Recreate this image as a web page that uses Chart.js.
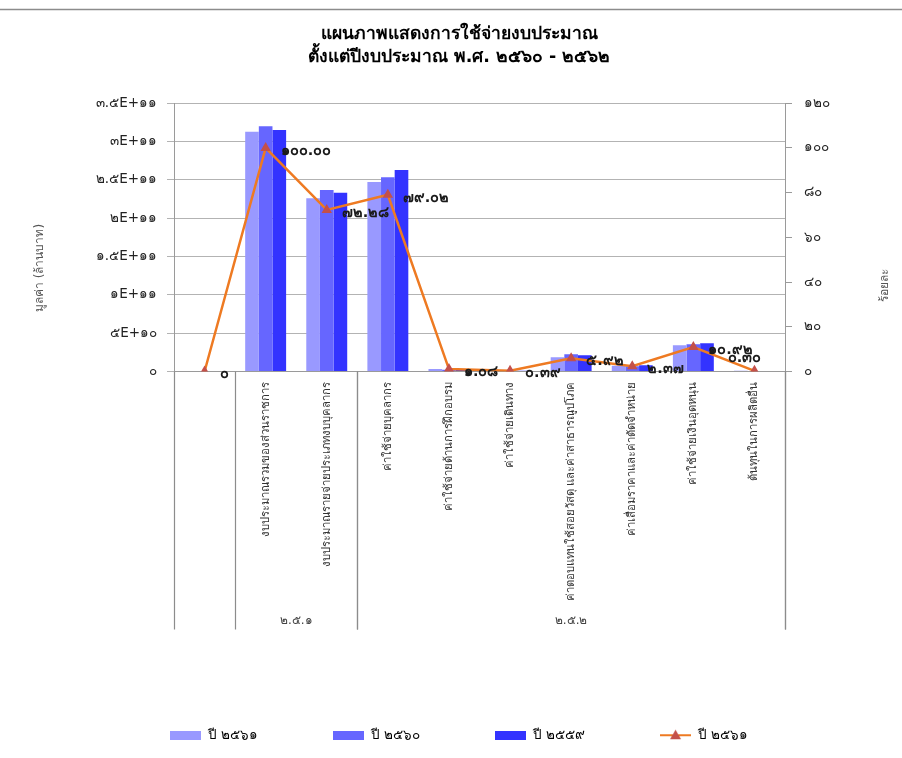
<!DOCTYPE html>
<html>
<head>
<meta charset="utf-8">
<script src="https://cdn.jsdelivr.net/npm/chart.js@4.4.1/dist/chart.umd.min.js"></script>
<style>
  html, body { margin: 0; padding: 0; background: #fff; }
  #wrap { width: 902px; height: 758px; position: relative; }
</style>
</head>
<body>
<div id="wrap"><canvas id="c" width="902" height="758"></canvas></div>
<script>
// Budget categories (first slot is intentionally blank)
const categories = [
  '',
  'งบประมาณรวมของส่วนราชการ',
  'งบประมาณรายจ่ายประเภทงบบุคลากร',
  'ค่าใช้จ่ายบุคลากร',
  'ค่าใช้จ่ายด้านการฝึกอบรม',
  'ค่าใช้จ่ายเดินทาง',
  'ค่าตอบแทนใช้สอยวัสดุ และค่าสาธารณูปโภค',
  'ค่าเสื่อมราคาและค่าตัดจำหน่าย',
  'ค่าใช้จ่ายเงินอุดหนุน',
  'ต้นทุนในการผลิตอื่น'
];

// Category groups shown on the second axis row
const groupNames = ['๒.๕.๑', '๒.๕.๒'];
const groupFirst = [1, 3];
const groupLast = [2, 9];

const seriesNames = ['ปี ๒๕๖๑', 'ปี ๒๕๖๐', 'ปี ๒๕๕๙', 'ปี ๒๕๖๑'];

// Spending (baht) per fiscal year
const spend2561 = [0, 3.127e11, 2.260e11, 2.471e11, 3.38e9, 1.22e9, 1.85e10, 7.4e9, 3.41e10, 9.4e8];
const spend2560 = [0, 3.200e11, 2.368e11, 2.533e11, 2.4e9, 1.0e9, 2.26e10, 7.0e9, 3.57e10, 0];
const spend2559 = [0, 3.149e11, 2.333e11, 2.628e11, 2.1e9, 0.9e9, 2.13e10, 8.0e9, 3.70e10, 0];

// Share of the total budget, percent (2561)
const percent2561 = [0, 100.00, 72.28, 79.02, 1.08, 0.39, 5.92, 2.37, 10.92, 0.30];

// Axis ranges
const valueMax = 3.5e11, valueStep = 5e10;
const percentMax = 120, percentStep = 20;

const chartTitle = ['แผนภาพแสดงการใช้จ่ายงบประมาณ', 'ตั้งแต่ปีงบประมาณ พ.ศ. ๒๕๖๐ - ๒๕๖๒'];
const valueAxisTitle = 'มูลค่า (ล้านบาท)';
const percentAxisTitle = 'ร้อยละ';

const FONT = "'DejaVu Sans', 'Noto Sans', sans-serif";
const GRID = '#b3b3b3';
const AXIS = '#9a9a9a';
const barColors = ['#9999ff', '#6666ff', '#3333ff'];
const lineColor = '#ee7a22';
const markerColor = '#c4504a';

const thaiDigits = s => String(s).replace(/[0-9]/g, d => '๐๑๒๓๔๕๖๗๘๙'[d]);

function sciLabel(v) {
  if (v === 0) return thaiDigits('0');
  const e = Math.floor(Math.log10(v) + 1e-9);
  const m = parseFloat((v / Math.pow(10, e)).toFixed(2));
  return thaiDigits(m + 'E+' + e);
}

function percentLabel(v) {
  return thaiDigits(v === 0 ? '0' : v.toFixed(2));
}

// Small swatches used as legend symbols
function barSwatch(color) {
  const c = document.createElement('canvas');
  c.width = 31; c.height = 9;
  const g = c.getContext('2d');
  g.fillStyle = color;
  g.fillRect(0, 0, 31, 9);
  return c;
}
function lineSwatch() {
  const c = document.createElement('canvas');
  c.width = 31; c.height = 12;
  const g = c.getContext('2d');
  g.strokeStyle = lineColor;
  g.lineWidth = 2;
  g.beginPath(); g.moveTo(0, 6); g.lineTo(31, 6); g.stroke();
  g.fillStyle = markerColor;
  g.beginPath(); g.moveTo(15.5, 0.5); g.lineTo(21, 10); g.lineTo(10, 10); g.closePath(); g.fill();
  return c;
}
const swatches = [barSwatch(barColors[0]), barSwatch(barColors[1]), barSwatch(barColors[2]), lineSwatch()];

// Group separators, group names, percent labels and axis titles
const decorations = {
  id: 'decorations',
  beforeDraw(chart) {
    const ctx = chart.ctx;
    ctx.save();
    ctx.strokeStyle = '#8c8c8c';
    ctx.lineWidth = 1.5;
    ctx.beginPath(); ctx.moveTo(0, 9.5); ctx.lineTo(chart.width, 9.5); ctx.stroke();
    ctx.restore();
  },
  afterDraw(chart) {
    const ctx = chart.ctx;
    const x = chart.scales.x;
    const area = chart.chartArea;
    const rowBottom = area.bottom + 258;
    const half = (x.getPixelForValue(1) - x.getPixelForValue(0)) / 2;
    ctx.save();
    ctx.strokeStyle = '#8c8c8c';
    ctx.lineWidth = 1.2;
    const edges = new Set([area.left, area.right]);
    groupFirst.forEach((f, i) => {
      edges.add(x.getPixelForValue(f) - half);
      edges.add(x.getPixelForValue(groupLast[i]) + half);
    });
    edges.forEach(px => {
      ctx.beginPath();
      ctx.moveTo(Math.round(px) + 0.5, area.bottom);
      ctx.lineTo(Math.round(px) + 0.5, rowBottom);
      ctx.stroke();
    });
    ctx.fillStyle = '#444';
    ctx.font = '12px ' + FONT;
    ctx.textAlign = 'center';
    ctx.textBaseline = 'middle';
    groupNames.forEach((name, i) => {
      const cx = (x.getPixelForValue(groupFirst[i]) + x.getPixelForValue(groupLast[i])) / 2;
      ctx.fillText(name, cx, rowBottom - 9);
    });

    // axis titles, both reading bottom-to-top
    ctx.fillStyle = '#555';
    ctx.font = '12px ' + FONT;
    ctx.save();
    ctx.translate(40, 268);
    ctx.rotate(-Math.PI / 2);
    ctx.fillText(valueAxisTitle, 0, 0);
    ctx.restore();
    ctx.save();
    ctx.translate(885, 285);
    ctx.rotate(-Math.PI / 2);
    ctx.fillText(percentAxisTitle, 0, 0);
    ctx.restore();
    ctx.restore();
  },
  afterDatasetsDraw(chart) {
    const ctx = chart.ctx;
    const meta = chart.getDatasetMeta(3);
    ctx.save();
    ctx.fillStyle = '#1a1a1a';
    ctx.font = 'bold 14.5px ' + FONT;
    ctx.textBaseline = 'middle';
    meta.data.forEach((pt, i) => {
      const text = percentLabel(percent2561[i]);
      if (i === meta.data.length - 1) {
        ctx.textAlign = 'center';
        ctx.fillText(text, pt.x - 10, pt.y - 13);
      } else {
        ctx.textAlign = 'left';
        ctx.fillText(text, pt.x + 15, pt.y + 3);
      }
    });
    ctx.restore();
  }
};

Chart.defaults.font.family = FONT;

new Chart(document.getElementById('c'), {
  data: {
    labels: categories,
    datasets: [
      { type: 'bar', label: seriesNames[0], data: spend2561, backgroundColor: barColors[0], yAxisID: 'y', order: 1 },
      { type: 'bar', label: seriesNames[1], data: spend2560, backgroundColor: barColors[1], yAxisID: 'y', order: 1 },
      { type: 'bar', label: seriesNames[2], data: spend2559, backgroundColor: barColors[2], yAxisID: 'y', order: 1 },
      { type: 'line', label: seriesNames[3], data: percent2561, yAxisID: 'y1', order: 0,
        borderColor: lineColor, borderWidth: 2.5, tension: 0,
        pointStyle: 'triangle', pointRadius: 6, pointBackgroundColor: markerColor, pointBorderColor: markerColor, pointBorderWidth: 0 }
    ]
  },
  options: {
    responsive: false,
    animation: false,
    datasets: { bar: { categoryPercentage: 0.67, barPercentage: 1.0 } },
    layout: { padding: { left: 16, right: 0, top: 0, bottom: 6 } },
    plugins: {
      title: {
        display: true, text: chartTitle, color: '#000',
        font: { size: 17.5, weight: 'bold', lineHeight: 1.32 },
        padding: { top: 23, bottom: 34 }
      },
      legend: {
        position: 'bottom',
        labels: {
          usePointStyle: true, pointStyleWidth: 31, boxHeight: 9,
          padding: 75, color: '#000', font: { size: 13.5 },
          generateLabels(chart) {
            return chart.data.datasets.map((ds, i) => ({
              text: ds.label, datasetIndex: i, pointStyle: swatches[i],
              fillStyle: 'transparent', strokeStyle: 'transparent', lineWidth: 0, hidden: false
            }));
          }
        }
      },
      tooltip: { enabled: false }
    },
    scales: {
      x: {
        offset: true,
        grid: { display: false, drawTicks: false },
        border: { display: true, color: AXIS },
        ticks: { autoSkip: false, minRotation: 90, maxRotation: 90, padding: 10, color: '#333', font: { size: 11.3 } },
        afterFit(s) { s.height = 282; }
      },
      y: {
        position: 'left', min: 0, max: valueMax,
        ticks: { stepSize: valueStep, callback: v => sciLabel(v), padding: 10, color: '#222', font: { size: 13.5 } },
        grid: { color: GRID, tickLength: 7 },
        border: { color: AXIS },
        afterFit(s) { s.width = 158; }
      },
      y1: {
        position: 'right', min: 0, max: percentMax,
        ticks: { stepSize: percentStep, callback: v => thaiDigits(v), padding: 12, color: '#222', font: { size: 13.5 } },
        grid: { drawOnChartArea: false, color: AXIS, tickLength: 7 },
        border: { color: AXIS },
        afterFit(s) { s.width = 117; }
      }
    }
  },
  plugins: [decorations]
});
</script>
</body>
</html>
